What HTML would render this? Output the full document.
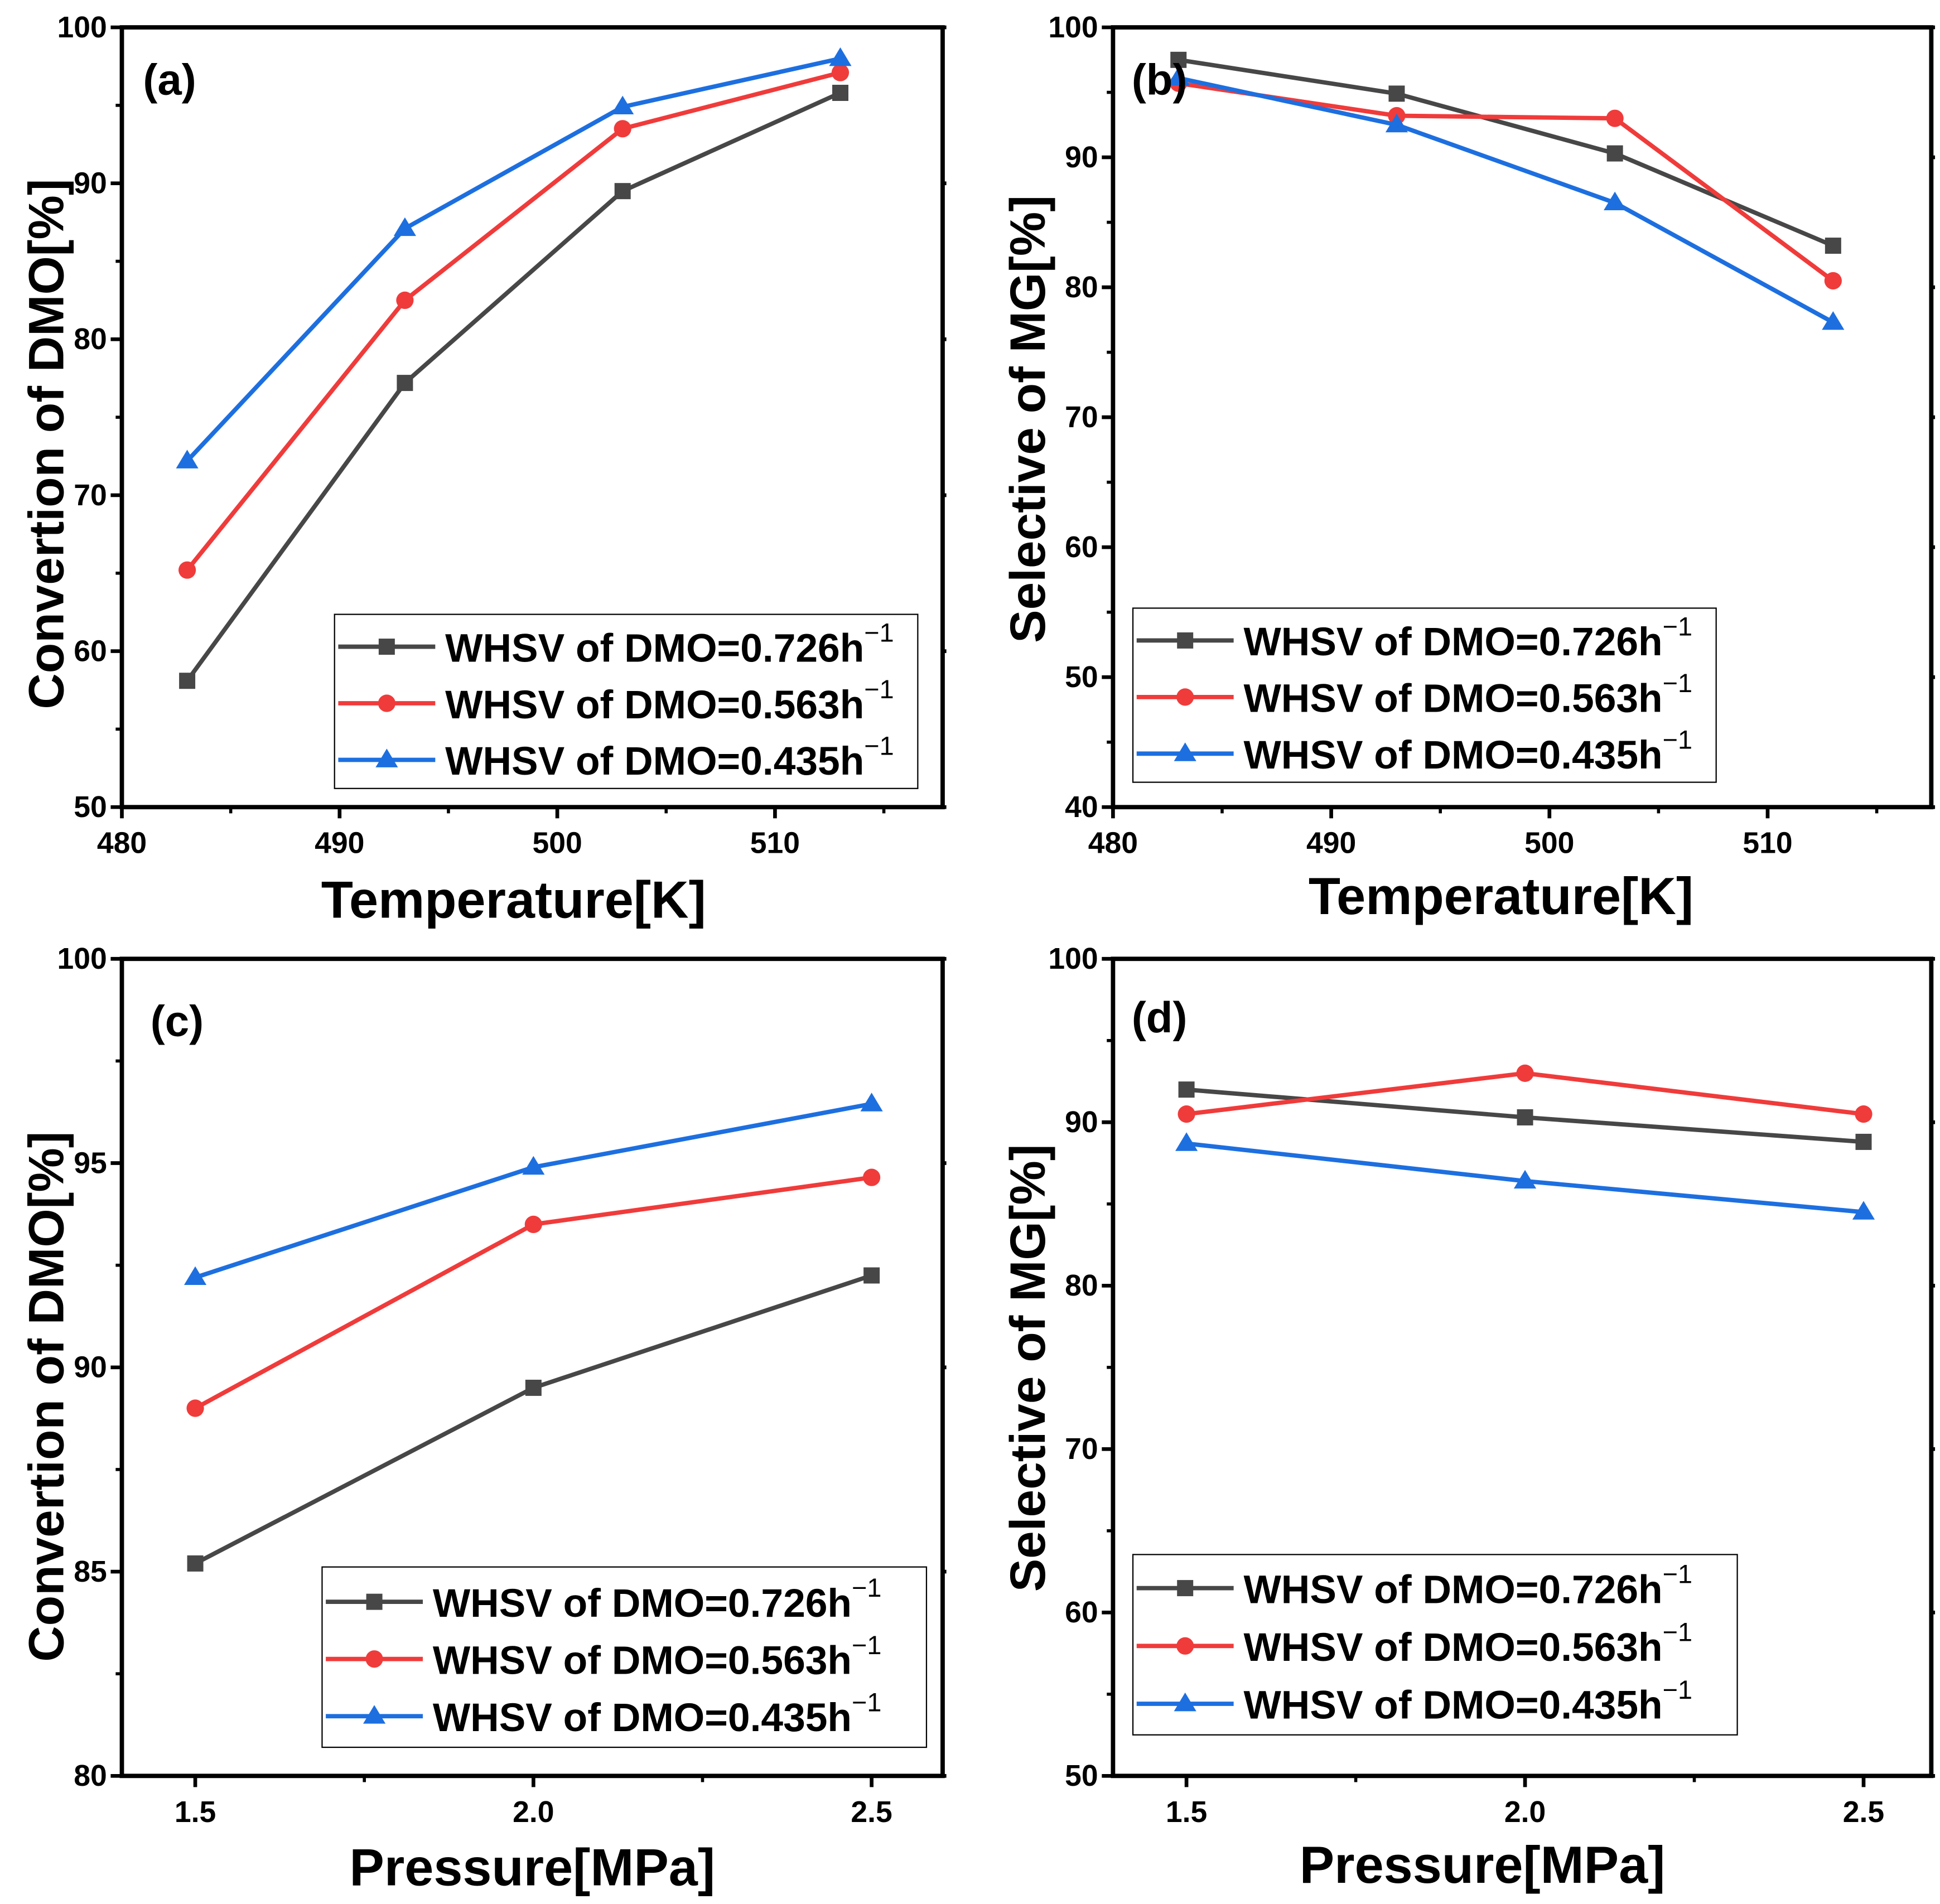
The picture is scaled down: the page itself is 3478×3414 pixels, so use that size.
<!DOCTYPE html>
<html><head><meta charset="utf-8"><style>
html,body{margin:0;padding:0;background:#fff}
svg{display:block}
text{font-family:"Liberation Sans",Arial,sans-serif;font-weight:bold;fill:#000}
</style></head><body>
<svg id="fig" width="3478" height="3414" viewBox="0 0 1560 1531" preserveAspectRatio="none" xmlns="http://www.w3.org/2000/svg"></svg>
<script>
// ---- data ----
const seriesNames = ["WHSV of DMO=0.726h", "WHSV of DMO=0.563h", "WHSV of DMO=0.435h"];
const tempX = [483, 493, 503, 513];
const convA_726 = [58.1, 77.2, 89.5, 95.8];
const convA_563 = [65.2, 82.5, 93.5, 97.1];
const convA_435 = [72.2, 87.1, 94.9, 98.0];
const selB_726 = [97.5, 94.9, 90.3, 83.2];
const selB_563 = [95.7, 93.2, 93.0, 80.5];
const selB_435 = [96.1, 92.5, 86.5, 77.3];
const presX = [1.5, 2.0, 2.5];
const convC_726 = [85.2, 89.5, 92.25];
const convC_563 = [89.0, 93.5, 94.65];
const convC_435 = [92.2, 94.9, 96.45];
const selD_726 = [92.0, 90.3, 88.8];
const selD_563 = [90.5, 93.0, 90.5];
const selD_435 = [88.7, 86.4, 84.5];
const tempTicks = [480, 490, 500, 510];
const presTicks = ["1.5", "2.0", "2.5"];
const yTicksA = [50, 60, 70, 80, 90, 100];
const yTicksB = [40, 50, 60, 70, 80, 90, 100];
const yTicksC = [80, 85, 90, 95, 100];
const yTicksD = [50, 60, 70, 80, 90, 100];

const colors = ["#474747", "#f03b3b", "#1d6fe0"];
const NS = "http://www.w3.org/2000/svg";
const svg = document.getElementById("fig");
function mk(tag, attrs, parent) {
  const e = document.createElementNS(NS, tag);
  for (const k in attrs) e.setAttribute(k, attrs[k]);
  (parent || svg).appendChild(e);
  return e;
}
function marker(g, k, x, y, c) {
  let m;
  if (k === 0) m = mk("rect", {x: x - 6.5, y: y - 6.5, width: 13, height: 13, fill: c}, g);
  else if (k === 1) m = mk("circle", {cx: x, cy: y, r: 7, fill: c}, g);
  else m = mk("polygon", {points: `${x},${y - 9} ${x - 9},${y + 6} ${x + 9},${y + 6}`, fill: c}, g);
  return m;
}
function panel(o) {
  const g = mk("g", {});
  
  
  const sx = v => o.L + (v - o.xmin) / (o.xmax - o.xmin) * (o.R - o.L);
  const sy = v => o.B - (v - o.ymin) / (o.ymax - o.ymin) * (o.B - o.T);
  o.xt.forEach((t, i) => {
    const v = parseFloat(t), X = sx(v);
    const tk = mk("line", {x1: X, x2: X, y1: o.B, y2: o.B + 9, stroke: "#000", "stroke-width": 3}, g);
    
    
    const lb = mk("text", {x: X, y: o.B + 37, "font-size": 24, "text-anchor": "middle"}, g);
    lb.textContent = t;
    
    
    if (i < o.xt.length - 1) {
      const mv = (v + parseFloat(o.xt[i + 1])) / 2;
      mk("line", {x1: sx(mv), x2: sx(mv), y1: o.B, y2: o.B + 5, stroke: "#000", "stroke-width": 2.5}, g);
    }
  });
  const last = parseFloat(o.xt[o.xt.length - 1]), step = last - parseFloat(o.xt[o.xt.length - 2]);
  if (last + step / 2 < o.xmax) mk("line", {x1: sx(last + step / 2), x2: sx(last + step / 2), y1: o.B, y2: o.B + 5, stroke: "#000", "stroke-width": 2.5}, g);
  o.yt.forEach((v, i) => {
    const Y = sy(v);
    const tk = mk("line", {x1: o.L - 9, x2: o.L, y1: Y, y2: Y, stroke: "#000", "stroke-width": 3}, g);
    
    
    mk("line", {x1: o.R, x2: o.R + 3, y1: Y, y2: Y, stroke: "#000", "stroke-width": 3}, g);
    const lb = mk("text", {x: o.L - 12, y: Y + 8, "font-size": 24, "text-anchor": "end"}, g);
    lb.textContent = v;
    
    
    if (i < o.yt.length - 1) {
      const mv = (v + o.yt[i + 1]) / 2;
      mk("line", {x1: o.L - 5, x2: o.L, y1: sy(mv), y2: sy(mv), stroke: "#000", "stroke-width": 2.5}, g);
    }
  });
  o.series.forEach((ys, k) => {
    const pts = ys.map((y, i) => sx(o.xs[i]) + "," + sy(y)).join(" ");
    const pl = mk("polyline", {points: pts, fill: "none", stroke: colors[k], "stroke-width": 3.5, "stroke-linejoin": "round"}, g);
    
    
    ys.forEach((y, i) => {
      const m = marker(g, k, sx(o.xs[i]), sy(y), colors[k]);
      
      
    });
  });
  const fr = mk("rect", {x: o.L, y: o.T, width: o.R - o.L, height: o.B - o.T, fill: "none", stroke: "#000", "stroke-width": 3.5}, g);
  
  
  const lg = mk("g", {}, g);
  
  
  mk("rect", {x: o.lg[0], y: o.lg[1], width: o.lg[2], height: o.lg[3], fill: "#fff", stroke: "#000", "stroke-width": 1}, lg);
  seriesNames.forEach((n, k) => {
    const ry = o.lg[4] + k * o.lg[5];
    const e = mk("g", {}, lg);
    
    
    mk("line", {x1: o.lg[0] + 3, x2: o.lg[0] + 81, y1: ry, y2: ry, stroke: colors[k], "stroke-width": 3.5}, e);
    marker(e, k, o.lg[0] + 42, ry, colors[k]);
    const t = mk("text", {x: o.lg[0] + 89, y: ry + 12, "font-size": 32}, e);
    t.textContent = n;
    const s = mk("tspan", {dy: -16, "font-size": 21, "font-weight": "normal"}, t);
    s.textContent = "\u22121";
  });
  const pl = mk("text", {x: o.pl[0], y: o.pl[1], "font-size": 35}, g);
  pl.textContent = "(" + o.id + ")";
  
  
  const xt = mk("text", {x: o.xtp[0], y: o.xtp[1], "font-size": 42, "text-anchor": "middle"}, g);
  xt.textContent = o.xtitle;
  
  
  const yt = mk("text", {x: 0, y: 0, "font-size": 40, "text-anchor": "middle", transform: `translate(${o.ytp[0]},${o.ytp[1]}) rotate(-90)`}, g);
  yt.textContent = o.ytitle;
  
  
}
panel({id: "a", L: 98, R: 758, T: 22, B: 649, xmin: 480, xmax: 517.7, ymin: 50, ymax: 100,
  xs: tempX, series: [convA_726, convA_563, convA_435], xt: tempTicks.map(String), yt: yTicksA,
  lg: [269, 494, 469, 140, 520, 45.5], pl: [115, 76], xtitle: "Temperature[K]", xtp: [413, 738],
  ytitle: "Convertion of DMO[%]", ytp: [51, 357]});
panel({id: "b", L: 895, R: 1553, T: 22, B: 649, xmin: 480, xmax: 517.5, ymin: 40, ymax: 100,
  xs: tempX, series: [selB_726, selB_563, selB_435], xt: tempTicks.map(String), yt: yTicksB,
  lg: [911, 489, 469, 140, 515, 45.5], pl: [910, 76], xtitle: "Temperature[K]", xtp: [1207, 735],
  ytitle: "Selective of MG[%]", ytp: [840, 337]});
panel({id: "c", L: 98, R: 758, T: 771, B: 1428, xmin: 1.3915, xmax: 2.605, ymin: 80, ymax: 100,
  xs: presX, series: [convC_726, convC_563, convC_435], xt: presTicks, yt: yTicksC,
  lg: [259, 1260, 486, 145, 1288, 46], pl: [121, 833], xtitle: "Pressure[MPa]", xtp: [428, 1516],
  ytitle: "Convertion of DMO[%]", ytp: [51, 1123]});
panel({id: "d", L: 895, R: 1553, T: 771, B: 1428, xmin: 1.3915, xmax: 2.6, ymin: 50, ymax: 100,
  xs: presX, series: [selD_726, selD_563, selD_435], xt: presTicks, yt: yTicksD,
  lg: [911, 1250, 486, 145, 1277, 46.5], pl: [910, 830], xtitle: "Pressure[MPa]", xtp: [1192, 1514],
  ytitle: "Selective of MG[%]", ytp: [840, 1100]});
</script>
</body></html>
